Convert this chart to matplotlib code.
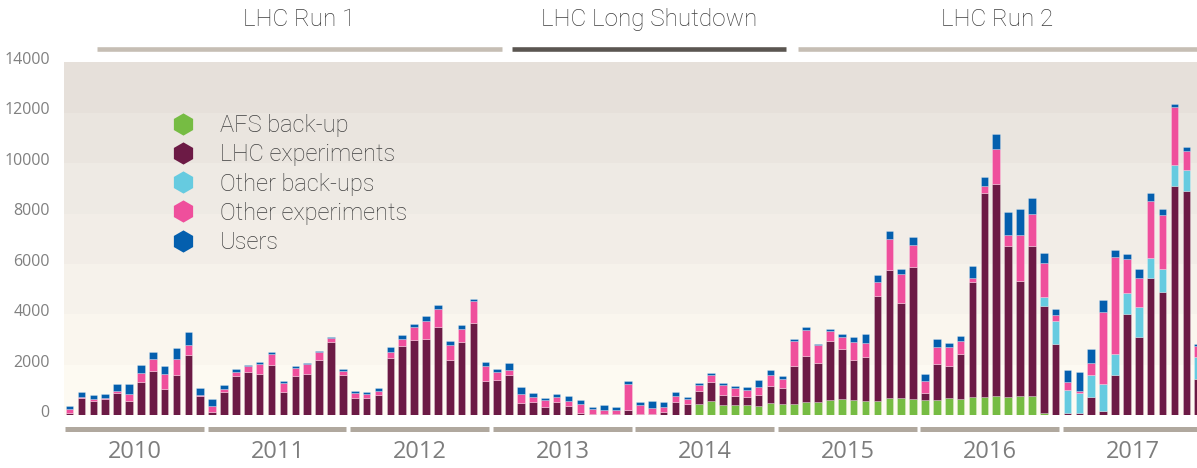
import matplotlib

matplotlib.use("Agg")
import matplotlib.pyplot as plt
import matplotlib.transforms as mtransforms
import numpy as np
from matplotlib.lines import Line2D

years = ["2010", "2011", "2012", "2013", "2014", "2015", "2016", "2017"]

# monthly values, Jan 2010 .. Dec 2017
afs_backup = (
    [0] * 12 * 4
    + [0, 0, 0, 0, 0, 455, 574, 429, 403, 416, 389, 482]
    + [442, 460, 540, 515, 627, 653, 614, 587, 574, 685, 693, 653]
    + [627, 614, 693, 667, 719, 746, 759, 733, 785, 785, 99, 0]
    + [0] * 12
)
lhc_experiments = (
    [86, 680, 587, 640, 904, 587, 1327, 1776, 1063, 1617, 2409, 759]
    + [139, 944, 1577, 1736, 1644, 2000, 944, 1577, 1644, 2198, 2924, 1617]
    + [706, 680, 812, 2290, 2766, 3003, 3017, 3518, 2198, 2924, 3677, 1380]
    + [1406, 1617, 508, 535, 323, 548, 389, 112, 59, 73, 73, 231]
    + [73, 59, 152, 548, 442, 528, 766, 396, 356, 330, 436, 673]
    + [660, 1514, 1803, 1577, 2337, 1994, 1597, 1743, 4178, 5091, 3776, 5241]
    + [277, 1426, 1281, 1782, 4568, 8066, 8396, 5993, 4555, 5941, 4251, 2818]
    + [112, 86, 720, 191, 1617, 4007, 3122, 5459, 4878, 9102, 8904, 1446]
)
other_backups = (
    [0] * 12 * 6
    + [0, 0, 0, 0, 0, 0, 0, 0, 0, 0, 343, 925]
    + [898, 792, 884, 1070, 832, 831, 1175, 779, 924, 819, 832, 884]
)
other_experiments = (
    [171, 40, 53, 53, 66, 264, 343, 462, 594, 621, 383, 53]
    + [237, 92, 133, 211, 409, 436, 356, 317, 382, 304, 159, 159]
    + [198, 158, 145, 212, 277, 502, 726, 700, 581, 515, 858, 580]
    + [304, 185, 343, 211, 291, 185, 198, 330, 198, 132, 145, 1003]
    + [330, 238, 198, 211, 211, 225, 264, 383, 343, 277, 317, 449]
    + [344, 963, 1030, 700, 383, 449, 713, 541, 535, 1227, 1135, 839]
    + [462, 673, 739, 501, 172, 277, 1386, 409, 1809, 1267, 1333, 237]
    + [304, 92, 488, 2851, 3841, 1360, 1162, 2244, 2139, 2310, 752, 416]
)
users = (
    [119, 210, 160, 158, 278, 383, 317, 264, 303, 448, 502, 264]
    + [277, 172, 145, 40, 53, 66, 53, 53, 53, 52, 39, 52]
    + [66, 79, 145, 211, 132, 105, 198, 158, 158, 145, 79, 159]
    + [118, 277, 278, 158, 79, 118, 185, 172, 66, 198, 132, 119]
    + [132, 264, 185, 185, 80, 79, 66, 79, 66, 119, 264, 198]
    + [132, 80, 119, 53, 79, 119, 198, 344, 264, 291, 185, 323]
    + [264, 317, 145, 199, 449, 357, 594, 911, 1029, 621, 410, 251]
    + [488, 753, 541, 449, 264, 211, 343, 317, 250, 106, 132, 79]
)

series = [
    ("AFS back-up", afs_backup, "#76bc43"),
    ("LHC experiments", lhc_experiments, "#6c1a45"),
    ("Other back-ups", other_backups, "#66cbe0"),
    ("Other experiments", other_experiments, "#ef4f9c"),
    ("Users", users, "#045fae"),
]

# LHC periods in month index units: (label, start, end, colour)
periods = [
    ("LHC Run 1", 2.3, 36.4, "#c6beb4"),
    ("LHC Long Shutdown", 37.2, 60.3, "#5b5651"),
    ("LHC Run 2", 61.3, 95.5, "#c6beb4"),
]

band_colors = ["#fdfaf2", "#faf6ee", "#f6f2eb", "#f2ede7", "#eeeae4", "#eae5df", "#e6e0da"]

fig = plt.figure(figsize=(11.97, 4.68), dpi=100)
ax = fig.add_axes([0.0532, 0.1122, 0.9468, 0.7553])

x = np.arange(len(users))
xmax = 94.9
ax.set_xlim(-0.5, xmax)
ax.set_ylim(0, 14000)

for k, c in enumerate(band_colors):
    ax.axhspan(2000 * k, 2000 * (k + 1), color=c, lw=0, zorder=0)

bottom = np.zeros(len(x))
for label, vals, color in series:
    vals = np.asarray(vals, dtype=float)
    ax.bar(x, vals, width=0.64, bottom=bottom, color=color,
           edgecolor=(1, 1, 1, 0.35), linewidth=0.5, zorder=2)
    bottom += vals

for s in ax.spines.values():
    s.set_visible(False)
ax.set_xticks([])
ax.set_yticks(np.arange(0, 14001, 2000))
ax.tick_params(axis="y", length=0, pad=10, labelsize=11.5, labelcolor="#808080")
offset = mtransforms.ScaledTranslation(0, 3 / 72, fig.dpi_scale_trans)
for lbl in ax.get_yticklabels():
    lbl.set_fontfamily("Open Sans")
    lbl.set_transform(lbl.get_transform() + offset)

trans = ax.get_xaxis_transform()
for j, yr in enumerate(years):
    ax.plot([12 * j - 0.38, 12 * j + 11.3], [-0.038, -0.038], transform=trans,
            color="#b0a89e", lw=3.6, solid_capstyle="butt", clip_on=False)
    ax.text(12 * j + 5.5, -0.102, yr, transform=trans, ha="center", va="center",
            fontsize=17, color="#7d7d7d", family="Open Sans")

for label, start, end, color in periods:
    ax.plot([start, end], [1.038, 1.038], transform=trans, color=color,
            lw=3.3, solid_capstyle="butt", clip_on=False)
    mid = (start + min(end, xmax)) / 2
    ax.text(mid, 1.119, label, transform=trans, ha="center", va="center",
            fontsize=17.5, color="#3e3e3e", family="Roboto", fontweight="light")

handles = [Line2D([], [], ls="none", marker="h", markersize=16, color=c,
                  markeredgewidth=0) for _, _, c in series]
ax.legend(handles, [s[0] for s in series], loc="upper left",
          bbox_to_anchor=(0.0949, 0.852), frameon=False, borderpad=0,
          borderaxespad=0, handlelength=1.0, handletextpad=1.07,
          labelspacing=0.26,
          prop={"family": "Roboto", "weight": "light", "size": 17},
          labelcolor="#3e3e3e")

fig.savefig("out.png", dpi=100)
